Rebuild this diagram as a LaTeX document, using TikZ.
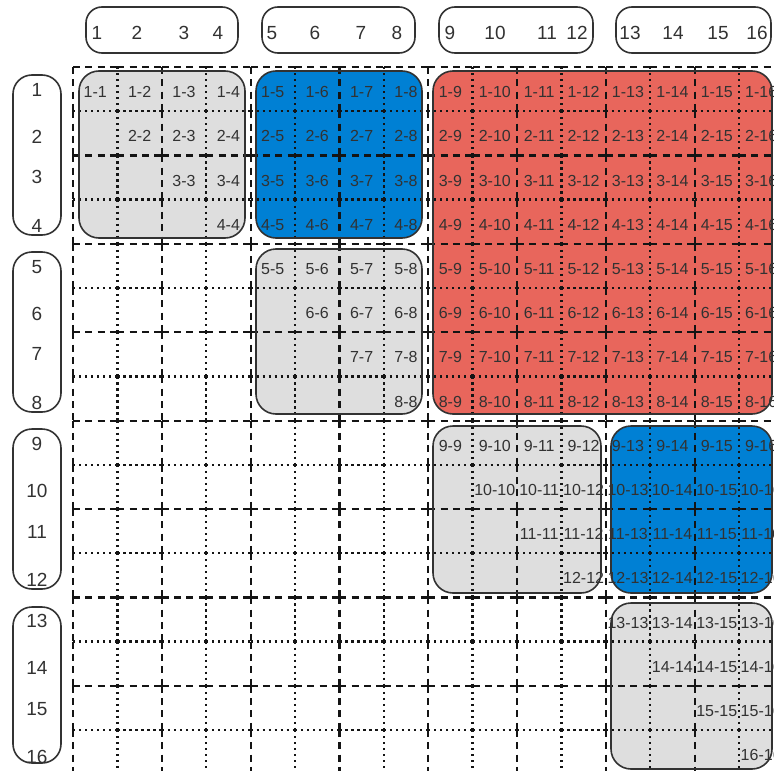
\documentclass[tikz,border=0pt]{standalone}
\usepackage{fontspec}
\setmainfont{Liberation Sans}
\definecolor{gfill}{RGB}{222,222,222}
\definecolor{bfill}{RGB}{0,128,212}
\definecolor{rfill}{RGB}{232,102,92}
\definecolor{edge}{RGB}{50,50,50}
\definecolor{gridc}{RGB}{20,20,20}
\definecolor{txt}{RGB}{50,50,50}
\begin{document}
\begin{tikzpicture}[x=1pt,y=-1pt,
  blk/.style={rounded corners=20pt},
  blkline/.style={draw=edge, line width=1.6pt, rounded corners=20pt},
  hdr/.style={draw=edge, line width=1.6pt, rounded corners=16pt},
  sdr/.style={draw=edge, line width=1.6pt, rounded corners=19pt},
  dsh/.style={draw=gridc, line width=2.2pt, dash pattern=on 7pt off 5.33pt},
  dtt/.style={draw=gridc, line width=2.3pt, dash pattern=on 2.2pt off 3.8pt},
  hnum/.style={font=\fontsize{19}{19}\selectfont, text=txt, inner sep=0pt},
  cnum/.style={font=\fontsize{16}{16}\selectfont, text=txt, inner sep=0pt}]
\path[use as bounding box] (0,0) rectangle (774,771);
\clip (0,0) rectangle (774,771);
% coloured blocks (fill)
\foreach \xa/\ya/\xb/\yb/\col in {79/71/245/238/gfill, 256/71/422/238/bfill,
  433/71/772/414/rfill, 256/249/422/414/gfill, 433/426/601/593/gfill,
  611/426/772/593/bfill, 611/603/772/769/gfill}
  \path[blk, fill=\col] (\xa,\ya) rectangle (\xb,\yb);
% grid
\foreach \i in {0,...,16} {
  \pgfmathsetmacro\gx{73+\i*44.4}
  \pgfmathsetmacro\gy{67+\i*44.2}
  \pgfmathtruncatemacro\odd{mod(\i,2)}
  \foreach \j in {0,...,15} {
    \pgfmathsetmacro\ya{67+\j*44.2}
    \pgfmathsetmacro\yb{67+(\j+1)*44.2}
    \pgfmathsetmacro\xa{73+\j*44.4}
    \pgfmathsetmacro\xb{73+(\j+1)*44.4}
    \ifnum\odd=0
      \draw[dsh] (\gx,\ya) -- (\gx,\yb);
      \draw[dsh] (\xa,\gy) -- (\xb,\gy);
    \else
      \draw[dtt] (\gx,\ya) -- (\gx,\yb);
      \draw[dtt] (\xa,\gy) -- (\xb,\gy);
    \fi
  }
}
% block outlines
\foreach \xa/\ya/\xb/\yb in {79/71/245/238, 256/71/422/238,
  433/71/772/414, 256/249/422/414, 433/426/601/593,
  611/426/772/593, 611/603/772/769}
  \path[blkline] (\xa,\ya) rectangle (\xb,\yb);
% cell labels
\foreach \r in {1,...,16} {
  \foreach \c in {\r,...,16} {
    \node[cnum] (l\r-\c) at ({73+(\c-0.5)*44.4},{67+(\r-0.5)*44.2+3}) {\r-\c};
  }
}
% header boxes (top)
\foreach \xa/\xb in {86/238, 262/415, 439/593, 616/771}
  \path[hdr] (\xa,7) rectangle (\xb,53);
\foreach \n/\x in {1/97,2/137,3/184,4/218,5/272,6/315,7/361,8/397,
  9/450,10/495,11/547,12/577,13/630,14/673,15/718,16/757}
  \node[hnum] (t\n) at (\x,33) {\n};
% header boxes (left)
\foreach \ya/\yb in {75/235, 252/412, 429/589, 607/763}
  \path[sdr] (13,\ya) rectangle (61,\yb);
\foreach \n/\y in {1/90,2/137,3/177,4/226,5/267,6/314,7/354,8/403,
  9/444,10/491,11/532,12/580,13/621,14/668,15/709,16/757}
  \node[hnum] (s\n) at (37,\y) {\n};
\end{tikzpicture}
\end{document}
